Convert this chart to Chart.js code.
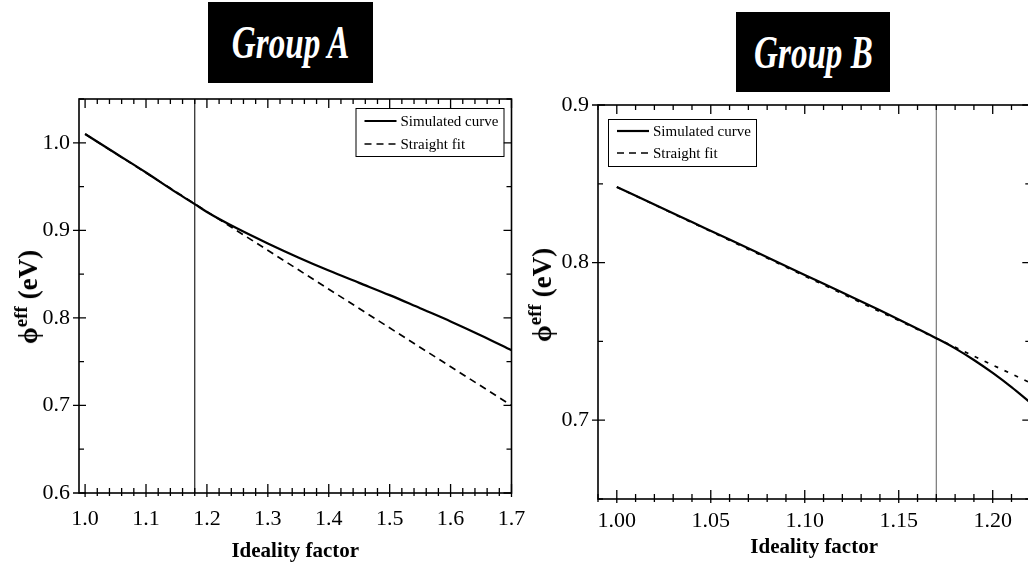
<!DOCTYPE html>
<html>
<head>
<meta charset="utf-8">
<title>Effective barrier height vs ideality factor</title>
<script src="https://cdn.jsdelivr.net/npm/chart.js@4.4.1/dist/chart.umd.min.js"></script>
<style>
  html, body { margin: 0; padding: 0; background: #fff; width: 1028px; height: 572px; overflow: hidden; position: relative; }
  canvas { position: absolute; top: 0; }
  #chartA { left: 0; }
  #chartB { left: 520px; }
  .group { position: absolute; background: #000; color: #fff; display: flex; align-items: center; justify-content: center;
           font-family: "Liberation Serif", "Times New Roman", serif; font-style: italic; font-weight: bold; font-size: 46px; }
  .group span { display: inline-block; transform: scaleX(0.72); white-space: nowrap; }
  .ytitle { position: absolute; font-family: "Liberation Serif", serif; font-weight: bold; font-size: 27px; white-space: nowrap;
            transform: translate(-50%, -50%) rotate(-90deg); }
  .ytitle sup { font-size: 19px; }
</style>
</head>
<body>
<canvas id="chartA" width="540" height="572"></canvas>
<canvas id="chartB" width="540" height="572"></canvas>

<div class="group" style="left:208px; top:2px; width:165px; height:81px;"><span>Group A</span></div>
<div class="group" style="left:736px; top:12px; width:154px; height:80px;"><span>Group B</span></div>

<div class="ytitle" style="left:27px; top:297px;">ϕ<sup>eff</sup> (eV)</div>
<div class="ytitle" style="left:541px; top:295px;">ϕ<sup>eff</sup> (eV)</div>

<script>
	// ---- Group A ----
	const xA      = [1.00, 1.05, 1.10, 1.15, 1.18, 1.20, 1.25, 1.30, 1.35, 1.40, 1.45, 1.50, 1.55, 1.60, 1.65, 1.70];
	const simA    = [1.010, 0.988, 0.966, 0.943, 0.930, 0.921, 0.902, 0.885, 0.869, 0.854, 0.840, 0.826, 0.811, 0.796, 0.780, 0.763];
	const fitXA   = [1.00, 1.70];
	const fitA    = [1.010, 0.700];
	const markA   = 1.18;  // where the fit range ends
	const xTicksA = [1.0, 1.1, 1.2, 1.3, 1.4, 1.5, 1.6, 1.7];
	const yTicksA = [0.6, 0.7, 0.8, 0.9, 1.0];

	// ---- Group B ----
	const xB      = [1.00, 1.02, 1.04, 1.06, 1.08, 1.10, 1.12, 1.14, 1.16, 1.17, 1.18, 1.19, 1.20, 1.21, 1.22];
	const simB    = [0.848, 0.8368, 0.8257, 0.8146, 0.8034, 0.7922, 0.7810, 0.7697, 0.7580, 0.7520, 0.7456, 0.7382, 0.7300, 0.7210, 0.7112];
	const fitXB   = [1.00, 1.22];
	const fitB    = [0.848, 0.7237];
	const markB   = 1.17;
	const xTicksB = [1.00, 1.05, 1.10, 1.15, 1.20];
	const yTicksB = [0.7, 0.8, 0.9];

	const serif = '"Liberation Serif", "Times New Roman", serif';

	function pts(xs, ys) {
		return xs.map((x, i) => ({ x: x, y: ys[i] }));
	}

	function steps(min, max, step) {
		const out = [];
		for (let k = Math.ceil(min / step - 1e-9); k * step <= max + 1e-9; k++) {
			out.push(+(k * step).toFixed(6));
		}
		return out;
	}

	function isMultiple(v, step) {
		const r = v / step;
		return Math.abs(r - Math.round(r)) < 1e-6;
	}

	// box frame + minor/major tick marks on all four sides
	const frameTicks = {
		id: 'frameTicks',
		afterDatasetsDraw(chart, args, o) {
			const { ctx, chartArea: a, scales: { x, y } } = chart;
			ctx.save();
			ctx.strokeStyle = '#000';
			ctx.lineWidth = 1.6;
			ctx.strokeRect(a.left, a.top, a.right - a.left, a.bottom - a.top);
			ctx.lineWidth = 1.3;
			ctx.beginPath();
			steps(x.min, x.max, o.xMinor).forEach(v => {
				const px = x.getPixelForValue(v);
				const major = isMultiple(v, o.xMajor);
				ctx.moveTo(px, a.bottom - (major ? 9 : 5));
				ctx.lineTo(px, a.bottom + (major ? 4 : 3));
				ctx.moveTo(px, a.top);
				ctx.lineTo(px, a.top + (major ? 9 : 5));
			});
			steps(y.min, y.max, o.yMinor).forEach(v => {
				const py = y.getPixelForValue(v);
				const major = isMultiple(v, o.yMajor);
				if (major) {
					ctx.moveTo(a.left - 6, py);
					ctx.lineTo(a.left + 7, py);
				} else {
					ctx.moveTo(a.left, py);
					ctx.lineTo(a.left + 5, py);
				}
				ctx.moveTo(a.right, py);
				ctx.lineTo(a.right - (major ? 8 : 5), py);
			});
			ctx.stroke();
			ctx.restore();
		}
	};

	// framed legend sitting inside the plot area
	const boxLegend = {
		id: 'boxLegend',
		afterDraw(chart, args, o) {
			const { ctx, chartArea: a } = chart;
			const bx = o.anchor === 'right' ? a.right - o.dx - o.w : a.left + o.dx;
			const by = a.top + o.dy;
			ctx.save();
			ctx.fillStyle = '#fff';
			ctx.fillRect(bx, by, o.w, o.h);
			ctx.strokeStyle = '#000';
			ctx.lineWidth = 1;
			ctx.strokeRect(bx + 0.5, by + 0.5, o.w, o.h);
			ctx.font = '15px ' + serif;
			ctx.textBaseline = 'middle';
			ctx.fillStyle = '#000';
			chart.data.datasets.filter(d => d.label).forEach((d, i) => {
				const ry = by + o.row0 + i * o.rowGap;
				ctx.setLineDash(o.dash[i]);
				ctx.lineWidth = d.borderWidth;
				ctx.beginPath();
				ctx.moveTo(bx + 9, ry);
				ctx.lineTo(bx + 41, ry);
				ctx.stroke();
				ctx.setLineDash([]);
				ctx.fillText(d.label, bx + 45, ry + 1);
			});
			ctx.restore();
		}
	};

	function makePanel(id, p) {
		return new Chart(document.getElementById(id), {
			type: 'scatter',
			data: {
				datasets: [
					{
						label: 'Simulated curve',
						data: pts(p.xs, p.sim),
						showLine: true,
						cubicInterpolationMode: 'monotone',
						borderColor: '#000',
						borderWidth: 2.2,
						pointRadius: 0
					},
					{
						label: 'Straight fit',
						data: pts(p.fitX, p.fit),
						showLine: true,
						borderColor: '#000',
						borderWidth: 1.7,
						borderDash: p.dash,
						pointRadius: 0
					},
					{
						label: '',
						data: [{ x: p.mark, y: p.yMin }, { x: p.mark, y: p.yMax }],
						showLine: true,
						borderColor: p.markColor,
						borderWidth: 1.2,
						pointRadius: 0
					}
				]
			},
			options: {
				responsive: false,
				animation: false,
				devicePixelRatio: 1,
				layout: { padding: { left: 0, top: p.top, right: p.right, bottom: 0 } },
				plugins: {
					legend: { display: false },
					tooltip: { enabled: false },
					frameTicks: { xMinor: p.xMinor, xMajor: p.xMajor, yMinor: 0.05, yMajor: 0.1 },
					boxLegend: p.legend
				},
				scales: {
					x: {
						type: 'linear',
						min: p.xMin,
						max: p.xMax,
						grid: { display: false, drawTicks: false },
						border: { display: false },
						afterBuildTicks: s => { s.ticks = p.xTicks.map(v => ({ value: v })); },
						afterFit: s => { s.height = p.xAxisH; },
						ticks: {
							color: '#000',
							padding: p.xPad,
							maxRotation: 0,
							autoSkip: false,
							font: { family: serif, size: 22 },
							callback: v => v.toFixed(p.digits)
						},
						title: {
							display: true,
							text: 'Ideality factor',
							color: '#000',
							font: { family: serif, size: 21, weight: 'bold' },
							padding: { top: 0, bottom: p.titlePad }
						}
					},
					y: {
						type: 'linear',
						min: p.yMin,
						max: p.yMax,
						grid: { display: false, drawTicks: false },
						border: { display: false },
						afterBuildTicks: s => { s.ticks = p.yTicks.map(v => ({ value: v })); },
						afterFit: s => { s.width = p.yAxisW; },
						ticks: {
							color: '#000',
							padding: 9,
							autoSkip: false,
							font: { family: serif, size: 22 },
							callback: v => v.toFixed(1)
						}
					}
				}
			},
			plugins: [frameTicks, boxLegend]
		});
	}

	makePanel('chartA', {
		xs: xA, sim: simA, fitX: fitXA, fit: fitA, mark: markA, markColor: '#222',
		xTicks: xTicksA, yTicks: yTicksA, digits: 1,
		xMin: 0.99, xMax: 1.70, yMin: 0.6, yMax: 1.05,
		xMinor: 0.02, xMajor: 0.1,
		dash: [7, 5],
		top: 99, right: 28.5, yAxisW: 79, xAxisH: 79, xPad: 13, titlePad: 8,
		legend: { anchor: 'right', dx: 8, dy: 9, w: 148, h: 48, row0: 13, rowGap: 23, dash: [[], [7, 5]] }
	});

	makePanel('chartB', {
		xs: xB, sim: simB, fitX: fitXB, fit: fitB, mark: markB, markColor: '#777',
		xTicks: xTicksB, yTicks: yTicksB, digits: 2,
		xMin: 0.99, xMax: 1.22, yMin: 0.65, yMax: 0.9,
		xMinor: 0.01, xMajor: 0.05,
		dash: [4, 7],
		top: 105, right: 29.7, yAxisW: 78, xAxisH: 73, xPad: 9, titlePad: 12,
		legend: { anchor: 'left', dx: 10, dy: 14, w: 148, h: 47, row0: 12, rowGap: 22, dash: [[], [7, 5]] }
	});
</script>
</body>
</html>
